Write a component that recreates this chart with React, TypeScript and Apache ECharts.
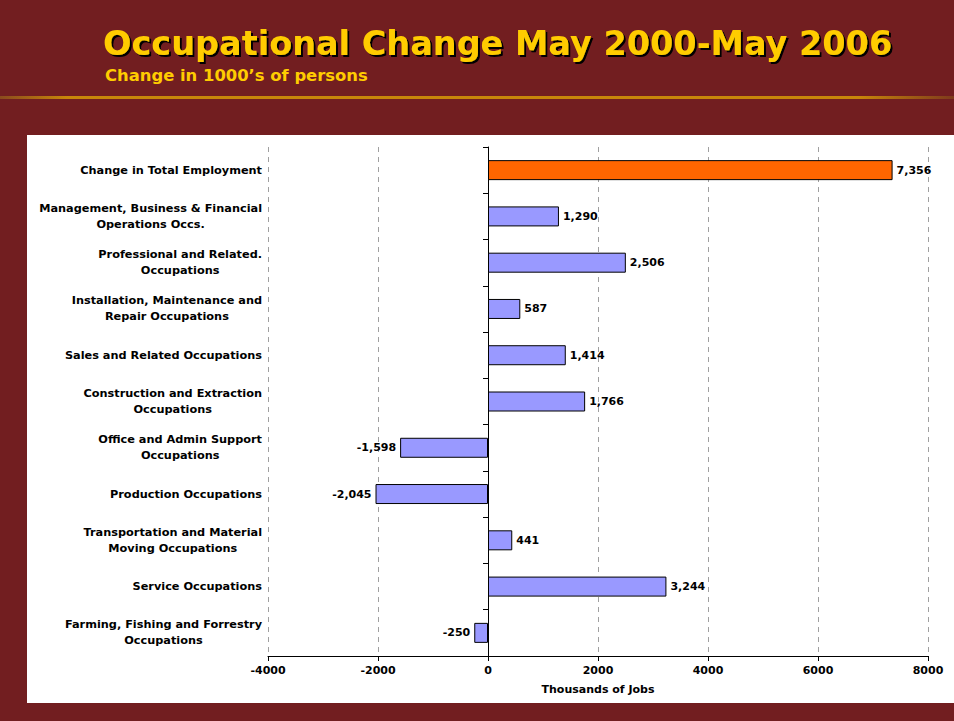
import React, { useEffect, useRef } from "react";
import * as echarts from "echarts";

const titleText = "Occupational Change May 2000-May 2006";
const subtitleText = "Change in 1000’s of persons";
const axisName = "Thousands of Jobs";

const categories = [
  "Change in Total Employment",
  "Management, Business & Financial\nOperations Occs.",
  "Professional and Related.\nOccupations",
  "Installation, Maintenance and\nRepair Occupations",
  "Sales and Related Occupations",
  "Construction and Extraction\nOccupations",
  "Office and Admin Support\nOccupations",
  "Production Occupations",
  "Transportation and Material\nMoving Occupations",
  "Service Occupations",
  "Farming, Fishing and Forrestry\nOccupations",
];

const values = [7356, 1290, 2506, 587, 1414, 1766, -1598, -2045, 441, 3244, -250];

const xMin = -4000;
const xMax = 8000;
const xInterval = 2000;

const MAROON = "#721E20";
const GOLD = "#FFCC00";
const FONT = "DejaVu Sans";

export default function App() {
  const ref = useRef<HTMLDivElement>(null);

  useEffect(() => {
    if (!ref.current) return;
    const chart = echarts.init(ref.current, undefined, { renderer: "svg" });

    const data = values.map((v, i) => ({
      value: v,
      itemStyle: i === 0 ? { color: "#FF6600" } : undefined,
      label: { position: v < 0 ? "left" : "right" },
    }));

    chart.setOption({
      animation: false,
      backgroundColor: "transparent",
      title: {
        text: titleText,
        left: 103,
        top: 23,
        padding: 0,
        textStyle: {
          color: GOLD,
          fontWeight: "bold",
          fontSize: 33.5,
          fontFamily: FONT,
          lineHeight: 40,
          textShadowColor: "#000000",
          textShadowBlur: 1,
          textShadowOffsetX: 2,
          textShadowOffsetY: 2,
        },
      },
      graphic: [
        {
          type: "rect",
          z: -10,
          shape: { x: 0, y: 96, width: 954, height: 3 },
          style: {
            fill: new echarts.graphic.LinearGradient(0, 0, 1, 0, [
              { offset: 0, color: "#8A4A1E" },
              { offset: 0.07, color: "#C8860A" },
              { offset: 0.9, color: "#C8860A" },
              { offset: 1, color: "#7E3A1C" },
            ]),
          },
        },
        {
          type: "text",
          x: 105,
          y: 75,
          style: {
            text: subtitleText,
            fill: GOLD,
            font: `bold 16.4px "${FONT}"`,
            textVerticalAlign: "middle",
          },
        },
      ],
      grid: { left: 268, right: 26, top: 147, bottom: 65, containLabel: false },
      xAxis: {
        type: "value",
        min: xMin,
        max: xMax,
        interval: xInterval,
        name: axisName,
        nameLocation: "middle",
        nameGap: 28,
        nameTextStyle: { color: "#000", fontWeight: "bold", fontSize: 11, fontFamily: FONT },
        axisLine: { show: true, onZero: false, lineStyle: { color: "#000", width: 1 } },
        axisTick: { show: true, length: 5, lineStyle: { color: "#000" } },
        axisLabel: {
          color: "#000",
          fontWeight: "bold",
          fontSize: 11,
          fontFamily: FONT,
          margin: 9,
          formatter: (v: number) => String(v),
        },
        splitLine: { show: true, lineStyle: { color: "#A0A0A0", type: [5, 5], width: 1 } },
      },
      yAxis: [
        {
          type: "category",
          data: categories,
          inverse: true,
          axisLine: { show: false, onZero: false },
          axisTick: { show: false },
          splitLine: { show: false },
          axisLabel: {
            margin: 6,
            align: "right",
            formatter: (val: string) =>
              val
                .split("\n")
                .map((l) => `{a|${l}}`)
                .join("\n"),
            rich: {
              a: {
                align: "center",
                fontWeight: "bold",
                fontSize: 11.3,
                fontFamily: FONT,
                color: "#000",
                lineHeight: 16,
              },
            },
          },
        },
        {
          type: "category",
          data: categories,
          inverse: true,
          position: "left",
          axisLine: { show: true, onZero: true, lineStyle: { color: "#000", width: 1 } },
          axisTick: { show: true, length: 5, lineStyle: { color: "#000" } },
          axisLabel: { show: false },
          splitLine: { show: false },
        },
      ],
      series: [
        {
          type: "bar",
          yAxisIndex: 0,
          data,
          barWidth: 20,
          itemStyle: { color: "#9999FF", borderColor: "#000", borderWidth: 1 },
          label: {
            show: true,
            distance: 4,
            color: "#000",
            fontWeight: "bold",
            fontSize: 11,
            fontFamily: FONT,
            formatter: (p: any) => Number(p.value).toLocaleString("en-US"),
          },
        },
      ],
    });

    return () => chart.dispose();
  }, []);

  return (
    <div
      style={{
        position: "absolute",
        left: 0,
        top: 0,
        width: 954,
        height: 721,
        background: MAROON,
        overflow: "hidden",
      }}
    >
      <div
        style={{
          position: "absolute",
          left: 27,
          top: 135,
          width: 927,
          height: 568,
          background: "#FFFFFF",
        }}
      />
      <div ref={ref} style={{ position: "absolute", left: 0, top: 0, width: 954, height: 721 }} />
    </div>
  );
}
